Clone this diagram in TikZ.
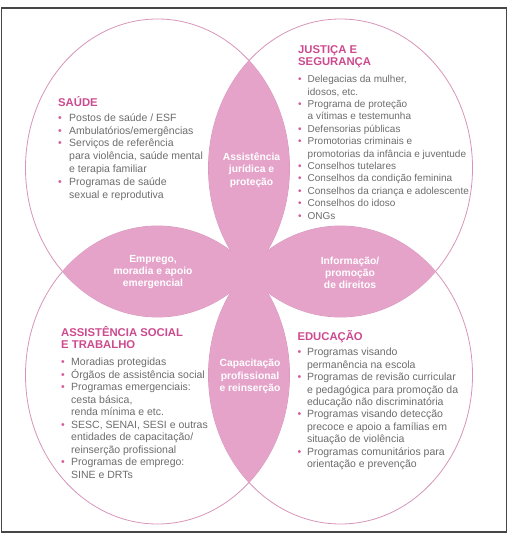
\documentclass[tikz,border=0pt]{standalone}
\usepackage{fontspec}
\setmainfont{Liberation Sans}
\definecolor{lenspink}{RGB}{229,163,202}
\definecolor{linepink}{RGB}{214,148,184}
\definecolor{headpink}{RGB}{204,74,142}
\definecolor{bulletpink}{RGB}{214,90,155}
\definecolor{bodygray}{RGB}{108,108,108}
\definecolor{framegray}{RGB}{70,70,70}
\newcommand\bi[1]{\makebox[#1][l]{\textcolor{bulletpink}{•}}}
\newcommand\ci[1]{\hspace*{#1}}
\begin{document}
\begin{tikzpicture}[x=1pt,y=-1pt,
  head/.style={inner sep=0pt, anchor=north west, align=left, text=headpink,
    font=\fontsize{11.3}{11.8}\selectfont\bfseries},
  body/.style={inner sep=0pt, anchor=north west, align=left, text=bodygray},
  lenslabel/.style={inner sep=0pt, align=center, text=white,
    font=\fontsize{10.3}{12.3}\selectfont\bfseries},
  ring/.style={draw=linepink, line width=0.8pt}]
\useasboundingbox (0,0) rectangle (510,534);
\def\tl{(157.5,168) ellipse [x radius=132, y radius=149]}
\def\tr{(340.5,168) ellipse [x radius=132, y radius=149]}
\def\bl{(157.5,375) ellipse [x radius=132, y radius=149]}
\def\br{(340.5,375) ellipse [x radius=132, y radius=149]}
% outlines
\draw[ring] \tl;
\draw[ring] \tr;
\draw[ring] \bl;
\draw[ring] \br;
% lens fills (drawn over the outlines)
\begin{scope}
  \clip \tl;
  \fill[lenspink] \tr;
  \fill[lenspink] \bl;
\end{scope}
\begin{scope}
  \clip \br;
  \fill[lenspink] \tr;
  \fill[lenspink] \bl;
\end{scope}
% frame
\draw[framegray, line width=1.5pt] (1.5,8) rectangle (506.5,532);

% SAUDE
\node[head] (saudeh) at (58,95) {\rule{0pt}{11pt}SAÚDE};
\node[body, font=\fontsize{10.5}{12.9}\selectfont] (saudel) at (58,111) {\rule{0pt}{10pt}\bi{11pt}Postos de saúde / ESF\\
\bi{11pt}Ambulatórios/emergências\\
\bi{11pt}Serviços de referência\\
\ci{11pt}para violência, saúde mental\\
\ci{11pt}e terapia familiar\\
\bi{11pt}Programas de saúde\\
\ci{11pt}sexual e reprodutiva};

% JUSTICA
\node[head] (justh) at (298,42.3) {\rule{0pt}{11pt}JUSTIÇA E\\SEGURANÇA};
\node[body, font=\fontsize{10}{12.4}\selectfont] (justl) at (298,72.5) {\rule{0pt}{10pt}\bi{9.5pt}Delegacias da mulher,\\
\ci{9.5pt}idosos, etc.\\
\bi{9.5pt}Programa de proteção\\
\ci{9.5pt}a vítimas e testemunha\\
\bi{9.5pt}Defensorias públicas\\
\bi{9.5pt}Promotorias criminais e\\
\ci{9.5pt}promotorias da infância e juventude\\
\bi{9.5pt}Conselhos tutelares\\
\bi{9.5pt}Conselhos da condição feminina\\
\bi{9.5pt}Conselhos da criança e adolescente\\
\bi{9.5pt}Conselhos do idoso\\
\bi{9.5pt}ONGs};

% ASSISTENCIA SOCIAL
\node[head] (assish) at (61,325.7) {\rule{0pt}{11pt}ASSISTÊNCIA SOCIAL\\E TRABALHO};
\node[body, font=\fontsize{10.5}{12.5}\selectfont] (assisl) at (61,355.7) {\rule{0pt}{10pt}\bi{10pt}Moradias protegidas\\
\bi{10pt}Órgãos de assistência social\\
\bi{10pt}Programas emergenciais:\\
\ci{10pt}cesta básica,\\
\ci{10pt}renda mínima e etc.\\
\bi{10pt}SESC, SENAI, SESI e outras\\
\ci{10pt}entidades de capacitação/\\
\ci{10pt}reinserção profissional\\
\bi{10pt}Programas de emprego:\\
\ci{10pt}SINE e DRTs};

% EDUCACAO
\node[head] (educh) at (297.3,329.3) {\rule{0pt}{11pt}EDUCAÇÃO};
\node[body, font=\fontsize{10.5}{12.4}\selectfont] (educl) at (297.5,345.7) {\rule{0pt}{10pt}\bi{9.3pt}Programas visando\\
\ci{9.3pt}permanência na escola\\
\bi{9.3pt}Programas de revisão curricular\\
\ci{9.3pt}e pedagógica para promoção da\\
\ci{9.3pt}educação não discriminatória\\
\bi{9.3pt}Programas visando detecção\\
\ci{9.3pt}precoce e apoio a famílias em\\
\ci{9.3pt}situação de violência\\
\bi{9.3pt}Programas comunitários para\\
\ci{9.3pt}orientação e prevenção};

% lens labels
\node[lenslabel] (juridica) at (251.5,170) {Assistência\\jurídica e\\proteção};
\node[lenslabel] (emprego) at (153,272) {Emprego,\\moradia e apoio\\emergencial};
\node[lenslabel] (informacao) at (350,273) {Informação/\\promoção\\de direitos};
\node[lenslabel] (capacitacao) at (250,376.5) {Capacitação\\profissional\\e reinserção};
\end{tikzpicture}
\end{document}
